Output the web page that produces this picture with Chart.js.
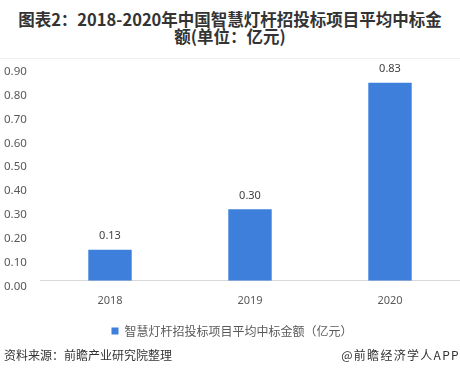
<!DOCTYPE html>
<html><head><meta charset="utf-8">
<script src="https://cdn.jsdelivr.net/npm/chart.js@4/dist/chart.umd.min.js"></script>
<style>
html,body{margin:0;padding:0;background:#fff;width:460px;height:377px;overflow:hidden;font-family:"Noto Sans CJK SC","Microsoft YaHei",sans-serif;}
#title{position:absolute;left:0;top:11px;width:460px;text-align:center;font-weight:bold;font-size:16.5px;line-height:17px;color:#333;}
#sep{position:absolute;left:0;top:58px;width:460px;height:1px;background:#eee;}
#wrap{position:absolute;left:0;top:60px;width:460px;height:287px;}
#src{position:absolute;left:4px;top:346px;font-size:12px;color:#333;}
#app{position:absolute;right:0;top:346px;font-size:12px;color:#333;letter-spacing:1.3px;}
</style></head><body>
<div id="title">图表2：2018-2020年中国智慧灯杆招投标项目平均中标金<br>额(单位：亿元)</div>
<div id="sep"></div>
<div id="wrap"><canvas id="c"></canvas></div>
<div id="src">资料来源：前瞻产业研究院整理</div>
<div id="app">@前瞻经济学人APP</div>
<script>
const categories = ["2018", "2019", "2020"];
const values = [0.13, 0.30, 0.83];
const seriesName = "智慧灯杆招投标项目平均中标金额（亿元）";

const labelPlugin = {
  id: 'vlabels',
  afterDatasetsDraw(chart) {
    const ctx = chart.ctx;
    const meta = chart.getDatasetMeta(0);
    ctx.save();
    ctx.font = '11px "Noto Sans","DejaVu Sans",sans-serif';
    ctx.fillStyle = '#404040';
    ctx.textAlign = 'center';
    ctx.textBaseline = 'bottom';
    meta.data.forEach((bar, i) => {
      ctx.fillText(values[i].toFixed(2), bar.x, bar.y - 8);
    });
    ctx.restore();
  }
};

new Chart(document.getElementById('c'), {
  type: 'bar',
  data: {
    labels: categories,
    datasets: [{
      label: seriesName,
      data: values,
      backgroundColor: '#3d7fdb',
      categoryPercentage: 0.31,
      barPercentage: 1.0
    }]
  },
  options: {
    responsive: true,
    maintainAspectRatio: false,
    animation: false,
    layout: { padding: { left: 4, right: 0, top: 6, bottom: 0 } },
    plugins: {
      legend: {
        position: 'bottom',
        labels: {
          boxWidth: 7, boxHeight: 7,
          color: '#595959',
          font: { size: 12, family: '"Noto Sans CJK SC",sans-serif' },
          padding: 13
        }
      },
      tooltip: { enabled: false }
    },
    scales: {
      x: {
        grid: { display: false },
        border: { display: true, color: '#d9d9d9' },
        ticks: { color: '#595959', font: { size: 11, family: '"Noto Sans","DejaVu Sans",sans-serif' }, padding: 5 }
      },
      y: {
        min: 0, max: 0.9,
        afterFit(s) { s.width = 36; },
        grid: { display: false },
        border: { display: false },
        ticks: {
          stepSize: 0.1,
          color: '#595959',
          font: { size: 11.5, family: '"Noto Sans","DejaVu Sans",sans-serif' },
          callback: v => v.toFixed(2),
          align: 'start',
          crossAlign: 'far',
          padding: 4
        }
      }
    }
  },
  plugins: [labelPlugin]
});
</script>
</body></html>
